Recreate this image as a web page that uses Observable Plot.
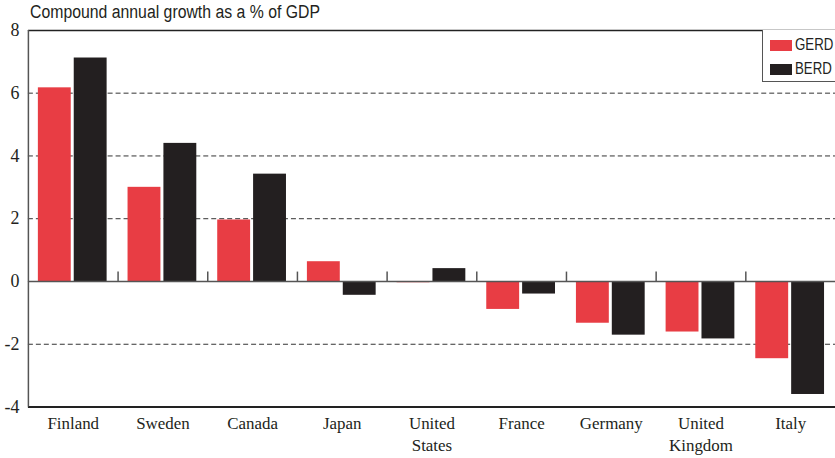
<!DOCTYPE html>
<html>
<head>
<meta charset="utf-8">
<script src="https://cdn.jsdelivr.net/npm/d3@7"></script>
<script src="https://cdn.jsdelivr.net/npm/@observablehq/plot@0.6"></script>
<style>
  html, body { margin: 0; padding: 0; background: #fff; }
  #wrap { position: relative; width: 835px; height: 458px; overflow: hidden; }
  #title { position: absolute; left: 30px; top: 2px; font-family: "Liberation Sans", Arial, sans-serif; font-size: 17px; color: #231f20; white-space: nowrap; transform: scale(0.93, 1.05); transform-origin: left top; }
  #legend { position: absolute; left: 762px; top: 30px; width: 80px; height: 51px; background: #fff; border-left: 1.5px solid #555; border-bottom: 1.5px solid #555; font-family: "Liberation Sans", Arial, sans-serif; font-size: 17px; color: #231f20; }
  .item { position: absolute; left: 7px; display: flex; align-items: center; height: 16px; white-space: nowrap; }
  .sw { width: 22px; height: 11px; margin-right: 3px; flex: none; }
  .lt { display: inline-block; transform: scaleX(0.78); transform-origin: left center; }
</style>
</head>
<body>
<div id="wrap">
  <div id="title"></div>
  <div id="legend"></div>
</div>
<script>
const countries = ["Finland", "Sweden", "Canada", "Japan", "United States", "France", "Germany", "United Kingdom", "Italy"];
const countryLabels = ["Finland", "Sweden", "Canada", "Japan", "United\nStates", "France", "Germany", "United\nKingdom", "Italy"];
const gerd = [6.17, 3.0, 1.96, 0.63, -0.04, -0.89, -1.33, -1.61, -2.46];
const berd = [7.12, 4.4, 3.42, -0.44, 0.41, -0.40, -1.71, -1.83, -3.6];
const seriesNames = ["GERD", "BERD"];
const seriesColors = ["#e83d44", "#231f20"];
const yTicks = [-4, -2, 0, 2, 4, 6, 8];
const gridTicks = [-2, 2, 4, 6];
const titleText = "Compound annual growth as a % of GDP";

const gerdData = countries.map((c, i) => ({country: c, value: gerd[i]}));
const berdData = countries.map((c, i) => ({country: c, value: berd[i]}));
const labelOf = new Map(countries.map((c, i) => [c, countryLabels[i]]));

const W = 838, H = 458, ML = 28, MR = 0, MT = 30, MB = 50;
const bw = (W - ML - MR) / countries.length;

const chart = Plot.plot({
  width: W,
  height: H,
  marginLeft: ML,
  marginRight: MR,
  marginTop: MT,
  marginBottom: MB,
  style: {background: "transparent", overflow: "visible"},
  x: {domain: countries, padding: 0, axis: null},
  y: {domain: [-4, 8], axis: null},
  marks: [
    Plot.ruleY(gridTicks, {stroke: "#333", strokeWidth: 1, strokeDasharray: "5,3"}),
    Plot.barY(gerdData, {x: "country", y: "value", fill: seriesColors[0], insetLeft: 10, insetRight: bw - 43}),
    Plot.barY(berdData, {x: "country", y: "value", fill: seriesColors[1], insetLeft: 46, insetRight: bw - 79}),
    Plot.ruleY([0], {stroke: "#555", strokeWidth: 1.5}),
    Plot.ruleX(countries.slice(0, -1), {x: d => d, y1: 0, y2: 0.3, dx: bw / 2, stroke: "#555", strokeWidth: 1.5}),
    Plot.ruleY([8], {stroke: "#222", strokeWidth: 1.5}),
    Plot.ruleY([-4], {stroke: "#222", strokeWidth: 2}),
    Plot.ruleX([countries[0]], {x: d => d, y1: -4, y2: 8, dx: -bw / 2, stroke: "#555", strokeWidth: 1.5}),
    Plot.axisY({ticks: yTicks, tickSize: 0, tickPadding: 9, tickFormat: d => String(d), label: null,
      fontSize: 18, fontFamily: "Liberation Serif, serif", fill: "#231f20"}),
    Plot.axisX({tickSize: 0, tickPadding: 6, label: null, tickFormat: d => labelOf.get(d),
      fontSize: 17, fontFamily: "Liberation Serif, serif", fill: "#231f20", lineHeight: 1.3})
  ]
});

const wrap = document.getElementById("wrap");
wrap.insertBefore(chart, wrap.firstChild);
chart.style.position = "absolute";
chart.style.left = "0px";
chart.style.top = "0px";
document.getElementById("title").textContent = titleText;
const legend = document.getElementById("legend");
seriesNames.forEach((name, i) => {
  const item = document.createElement("div");
  item.className = "item";
  item.style.top = (i === 0 ? 7 : 31) + "px";
  const sw = document.createElement("div");
  sw.className = "sw";
  sw.style.background = seriesColors[i];
  const t = document.createElement("span");
  t.className = "lt";
  t.textContent = name;
  item.appendChild(sw);
  item.appendChild(t);
  legend.appendChild(item);
});
</script>
</body>
</html>
